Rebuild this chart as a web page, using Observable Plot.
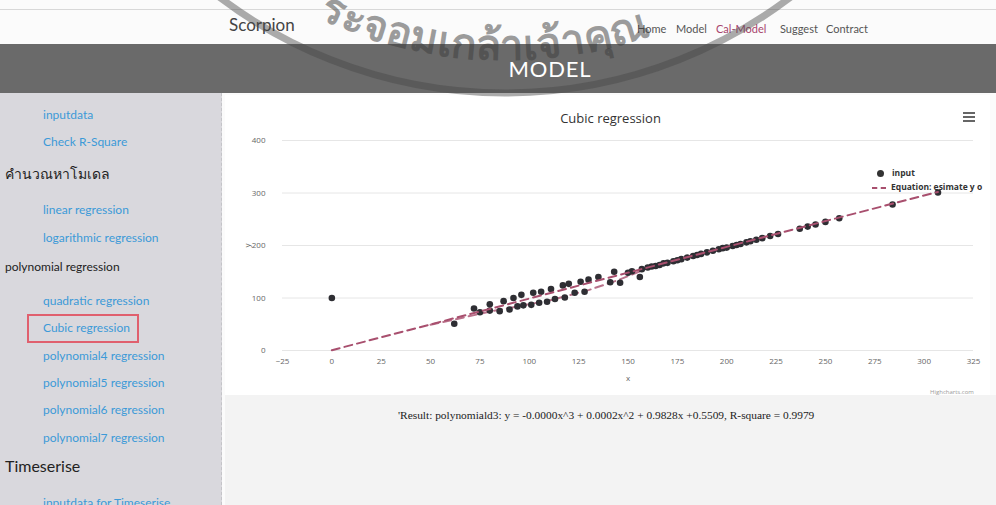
<!DOCTYPE html>
<html>
<head>
<meta charset="utf-8">
<script src="https://cdn.jsdelivr.net/npm/d3@7"></script>
<script src="https://cdn.jsdelivr.net/npm/@observablehq/plot@0.6"></script>
<style>
  html, body { margin: 0; padding: 0; background: #fbfbfb; }
  body { width: 996px; height: 505px; position: relative; overflow: hidden; font-family: Lato, "Noto Sans", sans-serif; }
  .abs { position: absolute; white-space: nowrap; }
  #topline { left: 0; top: 9px; width: 996px; height: 1px; background: #d8d8d8; }
  #brand { left: 229px; top: 14px; font-size: 17px; color: #444; }
  .nav { top: 22px; font-size: 11px; color: #555; }
  #band { left: 0; top: 44px; width: 996px; height: 49px; background: #6a6a6a; }
  #bandTitle { left: 0; top: 55px; width: 1100px; text-align: center; font-size: 22px; color: #fff; letter-spacing: 0.8px; }
  #side { left: 0; top: 93px; width: 221px; height: 412px; background: #d9d8dd; border-right: 1px dashed #c4c4c8; }
  .sl { font-size: 12px; color: #3c9ad8; left: 43px; }
  .sh { color: #222; left: 5px; }
  #redbox { left: 27px; top: 314px; width: 108px; height: 25px; border: 2px solid #e0606e; }
  #panel { left: 225px; top: 95px; width: 765px; height: 300px; background: #fff; }
  #lower { left: 225px; top: 395px; width: 771px; height: 110px; background: #f3f3f3; }
  #chartTitle { left: 225px; top: 109px; width: 771px; text-align: center; font-size: 13px; color: #333; font-family: "Open Sans", sans-serif; }
  #menu { left: 963px; top: 112px; width: 12px; }
  #menu div { height: 2px; background: #666; margin-bottom: 2px; }
  #credit { left: 930px; top: 388px; font-size: 6px; color: #999; font-family: "Open Sans", sans-serif; }
  #legend { left: 872px; top: 166px; font-size: 8.5px; font-weight: bold; color: #333; font-family: "Open Sans", sans-serif; width: 112px; overflow: hidden; }
  #result { left: 398px; top: 409px; font-family: "Liberation Serif", serif; font-size: 11.4px; color: #222; }
  #plot { left: 225px; top: 95px; }
  #wm { left: 0; top: 0; pointer-events: none; }
</style>
</head>
<body>
<div class="abs" id="topline"></div>
<div class="abs" id="brand">Scorpion</div>
<div class="abs nav" style="left:637px">Home</div>
<div class="abs nav" style="left:676px">Model</div>
<div class="abs nav" style="left:716px;color:#a8446c">Cal-Model</div>
<div class="abs nav" style="left:780px">Suggest</div>
<div class="abs nav" style="left:826px">Contract</div>
<div class="abs" id="band"></div>
<div class="abs" id="bandTitle">MODEL</div>

<div class="abs" id="side"></div>
<div class="abs sl" style="top:107px">inputdata</div>
<div class="abs sl" style="top:134px">Check R-Square</div>
<div class="abs sh" style="top:163px;font-size:14px">คำนวณหาโมเดล</div>
<div class="abs sl" style="top:202px">linear regression</div>
<div class="abs sl" style="top:230px">logarithmic regression</div>
<div class="abs sh" style="top:259px;font-size:12px">polynomial regression</div>
<div class="abs sl" style="top:293px">quadratic regression</div>
<div class="abs sl" style="top:320px">Cubic regression</div>
<div class="abs" id="redbox"></div>
<div class="abs sl" style="top:348px">polynomial4 regression</div>
<div class="abs sl" style="top:375px">polynomial5 regression</div>
<div class="abs sl" style="top:402px">polynomial6 regression</div>
<div class="abs sl" style="top:430px">polynomial7 regression</div>
<div class="abs sh" style="top:456px;font-size:16px">Timeserise</div>
<div class="abs sl" style="top:495px">inputdata for Timeserise</div>

<div class="abs" id="panel"></div>
<div class="abs" id="lower"></div>
<div class="abs" id="plot"></div>
<div class="abs" id="chartTitle">Cubic regression</div>
<div class="abs" id="menu"><div></div><div></div><div></div></div>
<div class="abs" id="legend">
  <div style="height:14px;line-height:14px"><span style="display:inline-block;width:7px;height:7px;border-radius:50%;background:#333;margin:0 8px 0 5px;vertical-align:middle"></span>input</div>
  <div style="height:14px;line-height:14px"><span style="display:inline-block;width:14px;border-top:2px dashed #a84f6e;margin-right:5px;vertical-align:middle"></span>Equation: esimate y o</div>
</div>
<div class="abs" id="credit">Highcharts.com</div>
<div class="abs" id="result">'Result: polynomiald3: y = -0.0000x^3 + 0.0002x^2 + 0.9828x +0.5509, R-square = 0.9979</div>

<svg class="abs" id="wm" width="996" height="505">
  <defs><path id="arc" d="M 65 -380 A 440 440 0 0 0 945 -380"></path></defs>
  <circle cx="505" cy="-380" r="473" fill="none" stroke="rgba(70,70,70,0.45)" stroke-width="7"></circle>
  <text font-size="42" fill="rgba(60,60,60,0.5)" font-weight="bold"><textPath href="#arc" startOffset="36%">ระจอมเกล้าเจ้าคุณ</textPath></text>
</svg>

<script>
// scatter "input" points (x, y)
const inputX = [0, 62, 72, 75, 80, 80, 85, 87, 90, 92, 94, 96, 97, 101, 102, 105, 106, 109, 111, 113, 117, 118, 120, 123, 126, 128, 130, 135, 141, 143, 146, 150, 152, 156, 157, 160, 162, 164, 166, 168, 170, 173, 175, 177, 180, 183, 185, 187, 190, 193, 196, 198, 200, 203, 205, 207, 210, 212, 215, 218, 222, 226, 237, 241, 245, 250, 257, 284, 307];
const inputY = [100, 51, 80, 73, 76, 88, 75, 94, 78, 100, 84, 106, 86, 87, 110, 91, 112, 93, 117, 98, 124, 101, 127, 110, 131, 112, 135, 140, 130, 150, 129, 148, 151, 140, 155, 158, 160, 161, 163, 166, 167, 170, 172, 174, 177, 180, 182, 184, 187, 190, 193, 195, 196, 199, 201, 203, 206, 208, 211, 214, 218, 222, 232, 236, 240, 245, 252, 278, 301];
// "Equation" dashed curve, read at a few x positions
const eqX = [0, 50, 100, 150, 200, 250, 307];
const eqY = [0.6, 49.7, 98.9, 148.3, 197.4, 246.5, 302];
// second, lower dashed trace visible between x≈50 and x≈160
const eqBX = [50, 80, 111, 130, 145, 160];
const eqBY = [49, 74, 96, 115, 134, 157];
const xTicks = [-25, 0, 25, 50, 75, 100, 125, 150, 175, 200, 225, 250, 275, 300, 325];
const yTicks = [0, 100, 200, 300, 400];

const pts = inputX.map((x, i) => ({x, y: inputY[i]}));
const eq = eqX.map((x, i) => ({x, y: eqY[i]}));
const eqB = eqBX.map((x, i) => ({x, y: eqBY[i]}));

const chart = Plot.plot({
  width: 771,
  height: 300,
  marginLeft: 57,
  marginRight: 23,
  marginTop: 45,
  marginBottom: 45,
  style: {background: "transparent", fontFamily: "Open Sans, sans-serif", fontSize: "8px", color: "#666"},
  x: {domain: [-25, 325], ticks: xTicks},
  y: {domain: [0, 400], ticks: yTicks},
  marks: [
    Plot.gridY(yTicks, {stroke: "#e6e6e6", strokeOpacity: 1}),
    Plot.axisX({ticks: xTicks, tickSize: 0, tickPadding: 8, label: "x", labelAnchor: "center", labelArrow: "none", labelOffset: 30, fill: "#666"}),
    Plot.axisY({ticks: yTicks, tickSize: 0, tickPadding: 17, label: "y", labelAnchor: "center", labelArrow: "none", labelOffset: 38, fill: "#666"}),
    Plot.line(eqB, {x: "x", y: "y", stroke: "#a84f6e", strokeWidth: 2, strokeDasharray: "8 5", strokeOpacity: 0.8}),
    Plot.dot(pts, {x: "x", y: "y", r: 3.3, fill: "#2e2e33", stroke: "none"}),
    Plot.line(eq, {x: "x", y: "y", stroke: "#a84f6e", strokeWidth: 2, strokeDasharray: "8 5"})
  ]
});
document.getElementById("plot").appendChild(chart);
</script>
</body>
</html>
